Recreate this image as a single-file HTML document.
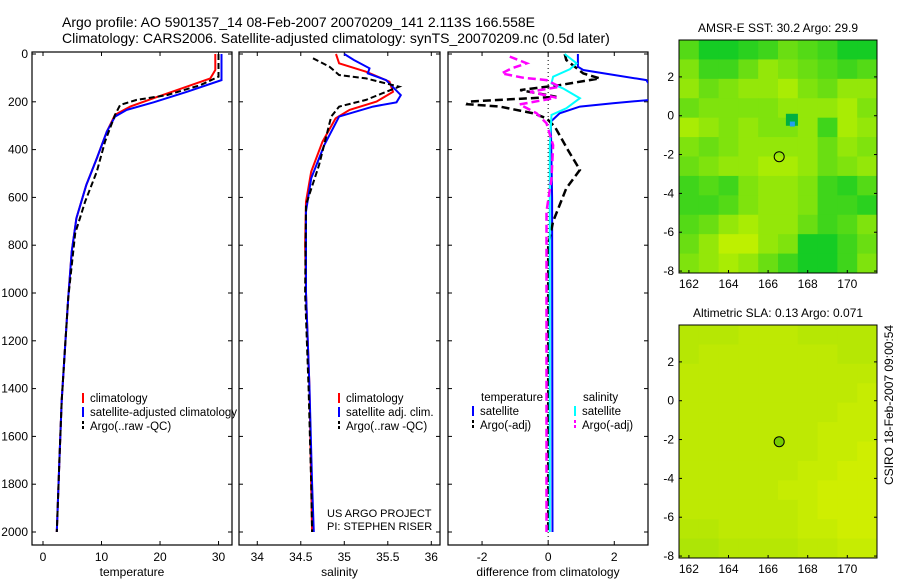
<!DOCTYPE html>
<html><head><meta charset="utf-8"><style>
body{margin:0;background:#fff;}
svg{display:block;font-family:"Liberation Sans",sans-serif;}
</style></head><body>
<svg id="c" width="900" height="580" xmlns="http://www.w3.org/2000/svg">
<text x="62" y="27" font-size="14">Argo profile: AO 5901357_14 08-Feb-2007 20070209_141 2.113S 166.558E</text>
<text x="62" y="43" font-size="14">Climatology: CARS2006. Satellite-adjusted climatology: synTS_20070209.nc (0.5d later)</text>
</svg>
<script>
const NS="http://www.w3.org/2000/svg",svg=document.getElementById('c');
function el(t,a,p){const e=document.createElementNS(NS,t);for(const k in a)e.setAttribute(k,a[k]);(p||svg).appendChild(e);return e;}
function tx(x,y,s,anchor,size,p){const e=el('text',{x:x,y:y,'font-size':size||12,'text-anchor':anchor||'start'},p);e.textContent=s;return e;}

// ---- data ----
const tempDepth=[0,67,102,151,185,220,255,325,437,548,687,827,1022,1250,1450,1700,2000];
const tempClim=[29.45,29.45,28.6,22.9,18.9,14.9,12.3,10.9,9.2,7.4,5.7,4.9,4.3,3.7,3.2,2.8,2.35];
const tempSatDepth=[0,109,158,202,234,262,325,437,548,687,827,1022,1250,1450,1700,2000];
const tempSat=[30.5,30.5,24.6,18.9,14.3,12.3,10.9,9.2,7.4,5.7,4.9,4.3,3.7,3.2,2.8,2.35];
const tempArgoDepth=[0,95,130,172,192,213,255,367,492,618,750,1022,1250,1450,1700,2000];
const tempArgo=[30,30,26.9,21.2,16,13.2,12.3,10.6,9.2,7.2,5.5,4.3,3.7,3.2,2.8,2.35];
const salDepth=[0,39,74,116,158,199,234,269,367,492,618,800,1000,1400,1800,2000];
const salClim=[34.905,34.94,35.25,35.52,35.56,35.37,35.06,34.9,34.75,34.62,34.56,34.55,34.56,34.6,34.62,34.63];
const salSatDepth=[0,25,60,81,109,172,202,220,262,381,520,659,1000,1400,1800,2000];
const salSat=[35.0,35.11,35.29,35.27,35.48,35.65,35.6,35.33,34.94,34.77,34.62,34.56,34.56,34.6,34.63,34.65];
const salArgoDepth=[18,53,88,102,137,158,192,220,262,464,631,1000,1400,1800,2000];
const salArgo=[34.64,34.83,34.94,35.25,35.63,35.48,35.25,34.94,34.85,34.71,34.56,34.55,34.59,34.62,34.63];
const dTSatDepth=[0,53,67,109,137,192,206,220,248,283,600,2000];
const dTSat=[0.9,0.9,1.06,2.97,3.1,3.1,1.96,0.96,0.35,0.08,0.12,0.13];
const dTArgoDepth=[0,25,81,102,130,151,179,199,210,220,248,269,304,402,485,562,701,799,2000];
const dTArgo=[0.5,0.55,1.06,1.56,0.35,-0.85,0.25,-2.42,-2.45,-1.46,-0.45,-0.05,0.2,0.6,0.96,0.55,0.15,0,0];
const dSSatDepth=[0,39,63,95,123,144,185,227,255,381,2000];
const dSSat=[0.5,0.86,0.66,0.15,0.1,0.45,0.96,0.55,0.1,0.05,0.05];
const dSArgoDepth=[11,39,60,81,99,109,137,158,183,211,248,290,381,520,659,2000];
const dSArgo=[-1.16,-0.65,-1.1,-1.41,-0.76,-0.05,0.35,-0.55,0.25,-0.86,-0.35,-0.05,0.15,0.1,-0.05,-0.05];
const depthTicks=[0,200,400,600,800,1000,1200,1400,1600,1800,2000];
const sstGrid=[
[5,8,8,7,6,4,5,6,8,8],
[3,6,6,4,2,3,4,5,6,5],
[2,4,3,2,2,1,3,4,2,2],
[4,3,3,3,3,2,2,2,1,3],
[1,2,3,2,3,3,2,6,1,2],
[3,4,3,2,2,2,2,4,2,3],
[4,3,2,2,1,1,2,4,3,2],
[6,5,6,3,2,2,3,6,7,5],
[6,6,5,3,2,2,3,6,6,7],
[5,4,2,1,2,2,4,6,5,3],
[4,2,0,0,2,3,8,8,6,4],
[3,2,1,2,4,6,8,8,6,3]];
const slaGrid=[
[4,4,4,3,3,3,4,4,4,4],
[4,3,3,3,3,3,3,3,4,4],
[3,3,3,3,3,3,3,3,3,3],
[3,3,3,3,3,3,3,3,3,2],
[3,3,3,3,3,3,3,3,2,2],
[3,3,3,3,3,3,3,2,2,2],
[3,3,3,3,3,3,3,2,2,1],
[3,3,3,3,3,3,2,2,1,1],
[3,3,3,3,3,2,2,1,1,1],
[3,3,3,3,3,3,2,1,1,1],
[4,4,3,3,3,3,2,2,1,1],
[5,5,4,4,4,4,3,3,2,2]];

// ---- panels ----
const topY=52,bot=545;
const yD=d=>54+d*0.239;
function panel(name,x0,x1,xmin,xmax,xticks,xlabel){
  const g=el('g',{},svg);
  const sx=v=>x0+(v-xmin)/(xmax-xmin)*(x1-x0);
  el('rect',{x:x0,y:topY,width:x1-x0,height:bot-topY,fill:'#fff',stroke:'#000','stroke-width':1.2},g);
  depthTicks.forEach(d=>{const y=yD(d);el('line',{x1:x0,x2:x0+4,y1:y,y2:y,stroke:'#000'},g);el('line',{x1:x1,x2:x1-4,y1:y,y2:y,stroke:'#000'},g);});
  xticks.forEach(v=>{const x=sx(v);el('line',{x1:x,x2:x,y1:bot,y2:bot-4,stroke:'#000'},g);el('line',{x1:x,x2:x,y1:topY,y2:topY+4,stroke:'#000'},g);tx(x,561,String(v),'middle',12,g);});
  tx((x0+x1)/2,576,xlabel,'middle',12,g);
  const cp=el('clipPath',{id:'cp'+name},g);el('rect',{x:x0,y:topY,width:x1-x0,height:bot-topY},cp);
  const lines=el('g',{'clip-path':'url(#cp'+name+')'},g);
  return {g,sx,lines};
}
function series(P,name,depths,vals,color,dash,w){
  const pts=depths.map((d,i)=>P.sx(vals[i]).toFixed(1)+','+yD(d).toFixed(1)).join(' ');
  const e=el('polyline',{points:pts,fill:'none',stroke:color,'stroke-width':w||2,'stroke-dasharray':dash||'none'},P.lines);
  
  
}
const P1=panel('temperature-panel',32,232,-1.88,32.3,[0,10,20,30],'temperature');
depthTicks.forEach(d=>tx(28,yD(d)+4,String(d),'end',12,svg));
series(P1,'temp-climatology',tempDepth,tempClim,'#f00');
series(P1,'temp-satellite',tempSatDepth,tempSat,'#00f');
series(P1,'temp-argo',tempArgoDepth,tempArgo,'#000','6,3');
const P2=panel('salinity-panel',239,440,33.79,36.1,[34,34.5,35,35.5,36],'salinity');
series(P2,'sal-climatology',salDepth,salClim,'#f00');
series(P2,'sal-satellite',salSatDepth,salSat,'#00f');
series(P2,'sal-argo',salArgoDepth,salArgo,'#000','6,3');
const P3=panel('difference-panel',448,648,-3.03,3.02,[-2,0,2],'difference from climatology');
el('line',{x1:P3.sx(0),x2:P3.sx(0),y1:topY,y2:bot,stroke:'#000','stroke-dasharray':'1,3'},P3.lines);
series(P3,'dtemp-satellite',dTSatDepth,dTSat,'#00f');
series(P3,'dtemp-argo',dTArgoDepth,dTArgo,'#000','8,4',2.5);
series(P3,'dsal-satellite',dSSatDepth,dSSat,'#0ff');
series(P3,'dsal-argo',dSArgoDepth,dSArgo,'#f0f','8,4',2.5);

// legends
function leg(x,y,color,dash,label,g){el('line',{x1:x,x2:x,y1:y-9,y2:y+1,stroke:color,'stroke-width':2,'stroke-dasharray':dash||'none'},g);tx(x+7,y,label,'start',11.5,g);}
let L=el('g',{});
leg(83,402,'#f00','','climatology',L);leg(83,416,'#00f','','satellite-adjusted climatology',L);leg(83,430,'#000','3,2','Argo(..raw -QC)',L);
L=el('g',{});
leg(339,402,'#f00','','climatology',L);leg(339,416,'#00f','','satellite adj. clim.',L);leg(339,430,'#000','3,2','Argo(..raw -QC)',L);
L=el('g',{});
tx(481,401,'temperature','start',11.5,L);tx(583,401,'salinity','start',11.5,L);
leg(473,415,'#00f','','satellite',L);leg(473,429,'#000','3,2','Argo(-adj)',L);
leg(575,415,'#0ff','','satellite',L);leg(575,429,'#f0f','3,2','Argo(-adj)',L);
tx(327,517,'US ARGO PROJECT','start',11,svg);tx(327,530,'PI: STEPHEN RISER','start',11,svg);

// maps
function map(name,y0,grid,title,lo,hi){
  const g=el('g',{});
  const x0=679,w=198,h=233,lonMin=161.5,lonMax=171.5,latMax=3.9,latMin=-8.1;
  const sx=v=>x0+(v-lonMin)/(lonMax-lonMin)*w, sy=v=>y0+(latMax-v)/(latMax-latMin)*h;
  const R=grid.length,C=grid[0].length;
  grid.forEach((row,r)=>row.forEach((v,c)=>{
    const t=v/9;const col=`rgb(${Math.round(lo[0]+(hi[0]-lo[0])*t)},${Math.round(lo[1]+(hi[1]-lo[1])*t)},${Math.round(lo[2]+(hi[2]-lo[2])*t)})`;
    const cell=el('rect',{x:x0+c*w/C,y:y0+r*h/R,width:w/C+0.5,height:h/R+0.5,fill:col},g);
    
    
  }));
  el('rect',{x:x0,y:y0,width:w,height:h,fill:'none',stroke:'#000'},g);
  [162,164,166,168,170].forEach(v=>{el('line',{x1:sx(v),x2:sx(v),y1:y0+h,y2:y0+h-3,stroke:'#000'},g);tx(sx(v),y0+h+15,String(v),'middle',12,g);});
  [2,0,-2,-4,-6,-8].forEach(v=>{el('line',{x1:x0,x2:x0+3,y1:sy(v),y2:sy(v),stroke:'#000'},g);el('line',{x1:x0+w,x2:x0+w-3,y1:sy(v),y2:sy(v),stroke:'#000'},g);tx(x0-5,sy(v)+4,String(v),'end',12,g);});
  tx(x0+w/2,y0-8,title,'middle',12,g);
  const m=el('circle',{cx:sx(166.56),cy:sy(-2.11),r:5,fill:'none',stroke:'#000'},g);
  
  return {g,sx,sy};
}
const M1=map('sst-map',40,sstGrid,'AMSR-E SST: 30.2 Argo: 29.9',[190,240,0],[0,200,40]);
el('rect',{x:M1.sx(166.9),y:M1.sy(0.1),width:12,height:12,fill:'#00b040'},M1.g);
el('rect',{x:M1.sx(167.1),y:M1.sy(-0.3),width:5,height:5,fill:'#20a0f0'},M1.g);
const M2=map('sla-map',325,slaGrid,'Altimetric SLA: 0.13 Argo: 0.071',[215,240,0],[140,220,10]);
M2.g.querySelector('circle').setAttribute('fill','#7c0');
const ct=el('text',{x:893,y:485,'font-size':12,transform:'rotate(-90 893 485)'});ct.textContent='CSIRO 18-Feb-2007 09:00:54';

</script>
</body></html>
